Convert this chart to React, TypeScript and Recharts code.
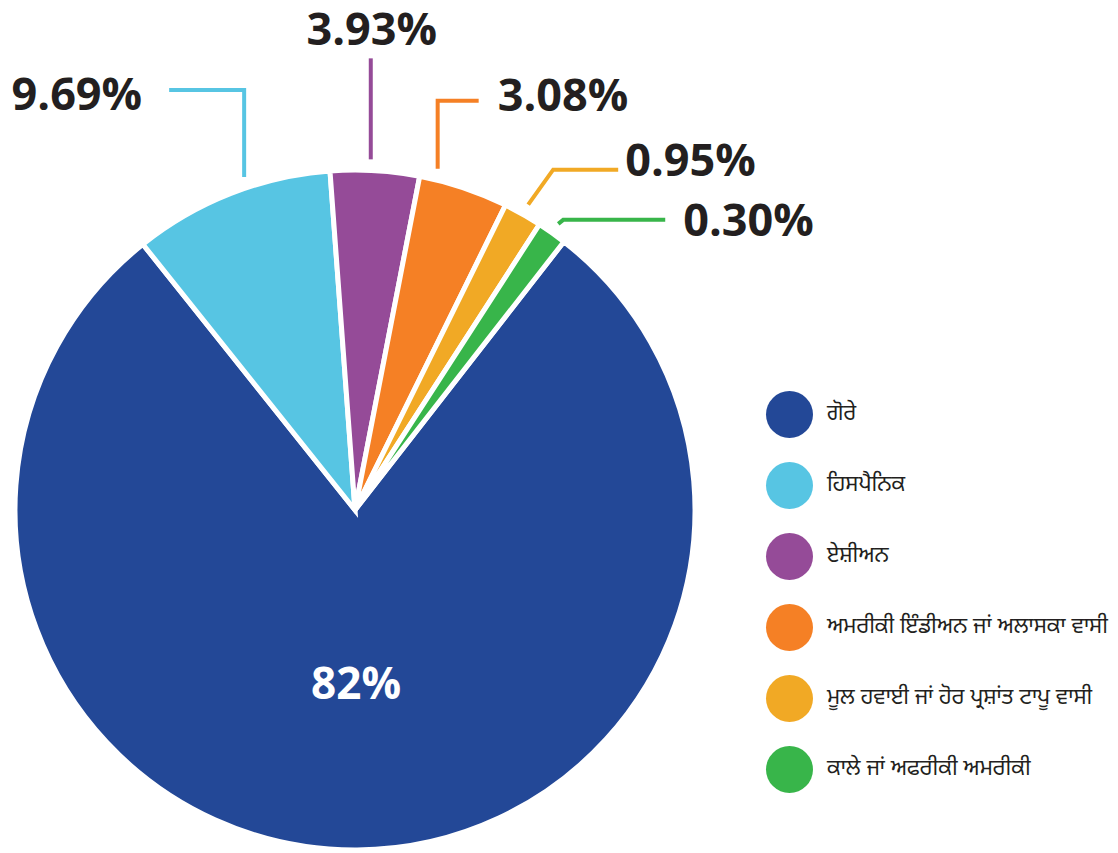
import { PieChart, Pie, Cell, Legend } from "recharts";

// slice shares as drawn (the artwork exaggerates the small groups a bit)
const groups = [
  "ਗੋਰੇ",
  "ਹਿਸਪੈਨਿਕ",
  "ਏਸ਼ੀਅਨ",
  "ਅਮਰੀਕੀ ਇੰਡੀਅਨ ਜਾਂ ਅਲਾਸਕਾ ਵਾਸੀ",
  "ਮੂਲ ਹਵਾਈ ਜਾਂ ਹੋਰ ਪ੍ਰਸ਼ਾਂਤ ਟਾਪੂ ਵਾਸੀ",
  "ਕਾਲੇ ਜਾਂ ਅਫਰੀਕੀ ਅਮਰੀਕੀ",
];
const shares = [78.75, 9.55, 4.22, 4.25, 1.83, 1.4];
const percentLabels = ["82%", "9.69%", "3.93%", "3.08%", "0.95%", "0.30%"];
const colors = ["#234897", "#57C5E3", "#954B98", "#F58025", "#F1A925", "#38B54A"];

const data = groups.map((name, i) => ({ name, value: shares[i] }));

const RAD = Math.PI / 180;
const TEXT = "#231F20";
const FONT = "'Open Sans', 'Noto Sans', sans-serif";

// leader line elbows, relative steps from the point just outside the slice
const leaders: Record<number, { nudge: number; steps: [number, number][]; tx: number; ty: number; anchor: string }> = {
  1: { nudge: -3, steps: [[0, -87], [-75, 0]], tx: -27, ty: 20, anchor: "end" },
  2: { nudge: 0.8, steps: [[0, -101]], tx: 1, ty: -13, anchor: "middle" },
  3: { nudge: 5, steps: [[0, -68], [41, 0]], tx: 19, ty: 10, anchor: "start" },
  4: { nudge: 0, steps: [[25, -35], [65, 0]], tx: 7, ty: 6, anchor: "start" },
  5: { nudge: 0, steps: [[5, -4], [102, 0]], tx: 18, ty: 16, anchor: "start" },
};

const renderLabel = (props: any) => {
  const { cx, cy, midAngle, outerRadius, index } = props;
  if (index === 0) {
    const x = cx + 172 * Math.cos(-midAngle * RAD);
    const y = cy - 172 * Math.sin(midAngle * RAD);
    return (
      <text x={x} y={y} fill="#fff" fontSize={44} fontWeight={700} fontFamily={FONT} textAnchor="middle" dominantBaseline="central">
        {percentLabels[0]}
      </text>
    );
  }
  const l = leaders[index];
  const a = (midAngle + l.nudge) * RAD;
  let x = cx + (outerRadius + 11) * Math.cos(a);
  let y = cy - (outerRadius + 11) * Math.sin(a);
  const pts = [`${x},${y}`];
  l.steps.forEach(([dx, dy]) => {
    x += dx;
    y += dy;
    pts.push(`${x},${y}`);
  });
  return (
    <g>
      <polyline points={pts.join(" ")} fill="none" stroke={colors[index]} strokeWidth={4} />
      <text x={x + l.tx} y={y + l.ty} fill={TEXT} fontSize={45} fontWeight={700} fontFamily={FONT} textAnchor={l.anchor as any}>
        {percentLabels[index]}
      </text>
    </g>
  );
};

const LegendList = () => (
  <div style={{ display: "flex", flexDirection: "column", gap: 24 }}>
    {groups.map((g, i) => (
      <div key={g} style={{ display: "flex", alignItems: "center", height: 47 }}>
        <span style={{ width: 47, height: 47, borderRadius: "50%", background: colors[i], flexShrink: 0 }} />
        <span style={{ marginLeft: 14, fontSize: 22, color: TEXT, fontFamily: "'Noto Sans Gurmukhi', 'Noto Sans', sans-serif", whiteSpace: "nowrap" }}>
          {g}
        </span>
      </div>
    ))}
  </div>
);

export default function App() {
  return (
    <div style={{ position: "absolute", left: 0, top: 0, background: "#fff" }}>
      <PieChart width={1118} height={853} margin={{ top: 0, right: 0, bottom: 0, left: 0 }}>
        <Pie
          data={data}
          dataKey="value"
          nameKey="name"
          cx={355}
          cy={510}
          outerRadius={340}
          startAngle={52.1}
          endAngle={-307.9}
          stroke="#fff"
          strokeWidth={5}
          label={renderLabel}
          labelLine={false}
          isAnimationActive={false}
        >
          {data.map((d, i) => (
            <Cell key={d.name} fill={colors[i]} />
          ))}
        </Pie>
        <Legend
          layout="vertical"
          content={<LegendList />}
          wrapperStyle={{ left: 766, top: 391, width: 352 }}
        />
      </PieChart>
    </div>
  );
}
